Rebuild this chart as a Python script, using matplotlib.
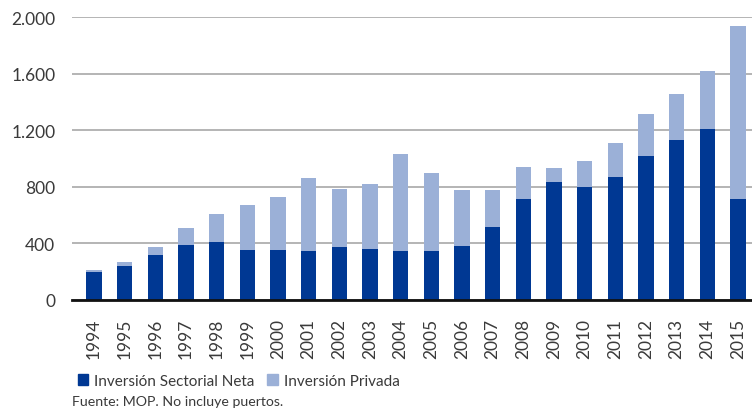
import matplotlib.pyplot as plt
from matplotlib.patches import Patch
from matplotlib.ticker import FuncFormatter

years = [str(y) for y in range(1994, 2016)]
neta = [200, 243, 320, 389, 410, 353, 353, 346, 375, 360, 346, 346, 382, 516,
        714, 834, 799, 870, 1018, 1131, 1209, 714]
total = [210, 269, 372, 512, 610, 674, 726, 865, 787, 820, 1032, 900, 775, 775,
         938, 930, 985, 1112, 1315, 1459, 1621, 1939]
privada = [t - n for t, n in zip(total, neta)]

c_dark = "#003893"
c_light = "#9BB0D7"
txt = "#3a3a3a"

plt.rcParams['font.family'] = ['Lato', 'DejaVu Sans']

fig = plt.figure(figsize=(7.52, 4.14), dpi=100)
ax = fig.add_axes([0.0957, 0.273, 0.9043, 0.6835])

x = range(len(years))
ax.bar(x, neta, width=0.5, color=c_dark, zorder=3, label="Inversión Sectorial Neta")
ax.bar(x, privada, bottom=neta, width=0.5, color=c_light, zorder=3, label="Inversión Privada")

ax.set_ylim(0, 2000)
ax.set_xlim(-0.72, 21.46)
ax.set_yticks([0, 400, 800, 1200, 1600, 2000])
ax.yaxis.set_major_formatter(FuncFormatter(lambda v, p: f"{int(v):,}".replace(",", ".")))
ax.grid(axis='y', color="#a8a8a8", linewidth=1.2, zorder=0)
ax.set_xticks(list(x))
ax.set_xticklabels(years, rotation=90, fontsize=12.5, color=txt)
ax.tick_params(axis='y', length=0, pad=12, labelsize=12.5, labelcolor=txt)
ax.tick_params(axis='x', length=0, pad=13)
for s in ['top', 'right', 'left']:
    ax.spines[s].set_visible(False)
ax.spines['bottom'].set_linewidth(2)
ax.spines['bottom'].set_color("#111111")
ax.spines['bottom'].set_zorder(4)

handles = [Patch(color=c_dark), Patch(color=c_light)]
fig.legend(handles, ["Inversión Sectorial Neta", "Inversión Privada"],
           loc='center left', bbox_to_anchor=(0.085, 0.077), ncol=2, frameon=False,
           handlelength=0.7, handleheight=0.7, handletextpad=0.4, columnspacing=0.8,
           fontsize=11, labelcolor=txt)
fig.text(0.096, 0.03, "Fuente: MOP. No incluye puertos.", fontsize=10.2, color=txt,
         va='center')

fig.savefig("out.png", dpi=100)
